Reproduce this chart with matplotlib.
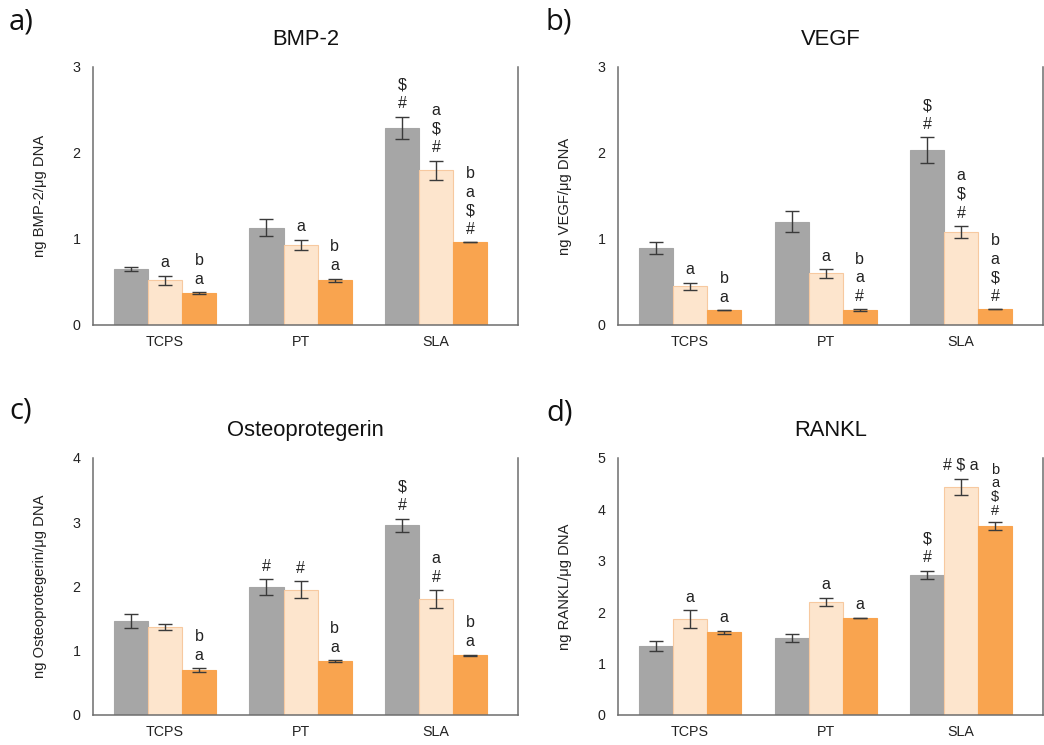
import matplotlib.pyplot as plt
import numpy as np

plt.rcParams['font.family'] = ['Liberation Sans', 'DejaVu Sans']

# Data
groups = ['TCPS', 'PT', 'SLA']

bmp2_mean = [[0.65, 1.13, 2.29], [0.52, 0.93, 1.80], [0.37, 0.52, 0.96]]
bmp2_err = [[0.02, 0.10, 0.13], [0.05, 0.06, 0.11], [0.01, 0.02, 0.0]]
bmp2_marks = [['', '', '$\n#'], ['a', 'a', 'a\n$\n#'], ['b\na', 'b\na', 'b\na\n$\n#']]

vegf_mean = [[0.90, 1.20, 2.03], [0.45, 0.60, 1.08], [0.17, 0.17, 0.18]]
vegf_err = [[0.07, 0.12, 0.15], [0.04, 0.05, 0.07], [0.0, 0.01, 0.0]]
vegf_marks = [['', '', '$\n#'], ['a', 'a', 'a\n$\n#'], ['b\na', 'b\na\n#', 'b\na\n$\n#']]

opg_mean = [[1.46, 1.99, 2.95], [1.37, 1.95, 1.80], [0.70, 0.84, 0.93]]
opg_err = [[0.11, 0.12, 0.10], [0.05, 0.13, 0.14], [0.03, 0.01, 0.01]]
opg_marks = [['', '#', '$\n#'], ['', '#', 'a\n#'], ['b\na', 'b\na', 'b\na']]

rankl_mean = [[1.34, 1.50, 2.72], [1.87, 2.20, 4.44], [1.61, 1.89, 3.67]]
rankl_err = [[0.10, 0.08, 0.08], [0.17, 0.08, 0.16], [0.03, 0.0, 0.08]]
rankl_marks = [['', '', '$\n#'], ['a', 'a', '# $ a'], ['a', 'a', 'b\na\n$\n#']]

panels = [
    ('a)', 'BMP-2', 'ng BMP-2/\u03bcg DNA', 3, bmp2_mean, bmp2_err, bmp2_marks),
    ('b)', 'VEGF', 'ng VEGF/\u03bcg DNA', 3, vegf_mean, vegf_err, vegf_marks),
    ('c)', 'Osteoprotegerin', 'ng Osteoprotegerin/\u03bcg DNA', 4, opg_mean, opg_err, opg_marks),
    ('d)', 'RANKL', 'ng RANKL/\u03bcg DNA', 5, rankl_mean, rankl_err, rankl_marks),
]

face_colors = ['#a6a6a6', '#fde5cd', '#f9a44f']
edge_colors = ['#a6a6a6', '#f7c9a0', '#f9a44f']

# axes rectangles in figure fractions
rects = [
    [0.0891, 0.5638, 0.4071, 0.3463],
    [0.5920, 0.5638, 0.4071, 0.3463],
    [0.0891, 0.0403, 0.4071, 0.3450],
    [0.5920, 0.0403, 0.4071, 0.3450],
]
label_pos = [(9, 22), (546, 22), (9, 411), (546, 413)]

fig = plt.figure(figsize=(10.44, 7.45), dpi=100)

x = np.arange(len(groups))
width = 0.251

for (tag, title, ylabel, ymax, means, errs, marks), rect, lp in zip(panels, rects, label_pos):
    ax = fig.add_axes(rect)
    for i in range(3):
        xs = x + (i - 1) * width
        ax.bar(xs, means[i], width, color=face_colors[i], edgecolor=edge_colors[i],
               linewidth=0.8, zorder=2)
        ax.errorbar(xs, means[i], yerr=errs[i], fmt='none', ecolor='#3a3a3a',
                    elinewidth=1.0, capsize=5, capthick=1.0, zorder=3)
        for xi, m, e, txt in zip(xs, means[i], errs[i], marks[i]):
            if txt:
                # the tall stack near the top of the RANKL panel is squeezed in the original
                tight = (m + e) / ymax > 0.7 and txt.count('\n') >= 3
                ax.annotate(txt, (xi, m + e), xytext=(0, 3 if tight else 4),
                            textcoords='offset points', ha='center', va='bottom',
                            fontsize=10.5 if tight else 11.5,
                            linespacing=0.98 if tight else 1.3, color='#222222')

    ax.set_xlim(-0.531, 2.605)
    ax.set_ylim(0, ymax)
    ax.set_yticks(range(ymax + 1))
    ax.set_xticks(x)
    ax.set_xticklabels(groups)
    ax.tick_params(axis='both', length=0, labelsize=10.3, colors='#222222')
    ax.tick_params(axis='x', pad=7)
    ax.tick_params(axis='y', pad=9)
    ax.spines['top'].set_visible(False)
    for s in ['left', 'bottom', 'right']:
        ax.spines[s].set_color('#6e6e6e')
        ax.spines[s].set_linewidth(1.1)
    ax.set_ylabel(ylabel, fontsize=10.6, color='#222222')
    ax.yaxis.set_label_coords(-46 / 425, 0.5)
    ax.set_title(title, fontsize=15.8, pad=16, color='#111111')

    fig.text(lp[0] / 1044, 1 - lp[1] / 745, tag, fontsize=21, family='Open Sans',
             ha='left', va='center', color='#111111')

fig.savefig('out.png', dpi=100)
